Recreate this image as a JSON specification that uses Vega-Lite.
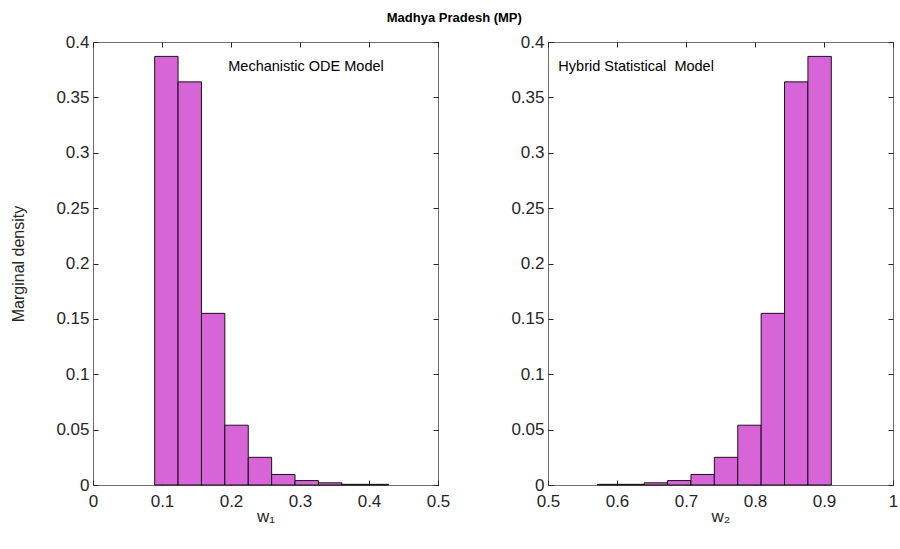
{
  "$schema": "https://vega.github.io/schema/vega-lite/v6.json",
  "background": "white",
  "padding": {"left": 10, "top": 11, "right": 2, "bottom": 2},
  "spacing": 59,
  "title": {"text": "Madhya Pradesh (MP)", "font": "Liberation Sans", "fontSize": 13, "fontWeight": "bold", "color": "#000000", "anchor": "middle", "offset": 8},
  "config": {
    "view": {"stroke": "#6e6e6e", "strokeWidth": 1},
    "axis": {
      "domain": false, "grid": false, "labelFlush": false,
      "tickSize": -5, "tickColor": "#262626", "tickWidth": 1,
      "labelFont": "Liberation Sans", "labelFontSize": 17, "labelColor": "#262626", "labelPadding": 9,
      "titleFont": "Liberation Sans", "titleFontSize": 16, "titleFontWeight": "normal", "titleColor": "#262626"
    },
    "axisBottom": {"labelPadding": 13}
  },
  "datasets": {
    "w1": [
      {"lo": 0.0894, "hi": 0.1233, "d": 0.387},
      {"lo": 0.1233, "hi": 0.1572, "d": 0.364},
      {"lo": 0.1572, "hi": 0.1911, "d": 0.155},
      {"lo": 0.1911, "hi": 0.2250, "d": 0.054},
      {"lo": 0.2250, "hi": 0.2589, "d": 0.025},
      {"lo": 0.2589, "hi": 0.2928, "d": 0.0095},
      {"lo": 0.2928, "hi": 0.3267, "d": 0.004},
      {"lo": 0.3267, "hi": 0.3606, "d": 0.002},
      {"lo": 0.3606, "hi": 0.3945, "d": 0.0006},
      {"lo": 0.3945, "hi": 0.4284, "d": 0.0006}
    ],
    "w2": [
      {"lo": 0.5716, "hi": 0.6055, "d": 0.0006},
      {"lo": 0.6055, "hi": 0.6394, "d": 0.0006},
      {"lo": 0.6394, "hi": 0.6733, "d": 0.002},
      {"lo": 0.6733, "hi": 0.7072, "d": 0.004},
      {"lo": 0.7072, "hi": 0.7411, "d": 0.0095},
      {"lo": 0.7411, "hi": 0.7750, "d": 0.025},
      {"lo": 0.7750, "hi": 0.8089, "d": 0.054},
      {"lo": 0.8089, "hi": 0.8428, "d": 0.155},
      {"lo": 0.8428, "hi": 0.8767, "d": 0.364},
      {"lo": 0.8767, "hi": 0.9106, "d": 0.387}
    ],
    "lab1": [{"x": 0.196, "y": 0.377, "t": "Mechanistic ODE Model"}],
    "lab2": [{"x": 0.515, "y": 0.377, "t": "Hybrid Statistical\u00a0 Model"}]
  },
  "hconcat": [
    {
      "width": 345, "height": 443,
      "layer": [
        {
          "data": {"name": "w1"},
          "mark": {"type": "bar", "fill": "#D865D8", "stroke": "#000000", "strokeWidth": 0.9},
          "encoding": {
            "x": {"field": "lo", "type": "quantitative", "scale": {"domain": [0, 0.5], "nice": false, "zero": false},
                  "axis": {"values": [0, 0.1, 0.2, 0.3, 0.4, 0.5], "format": "~g", "title": "w₁", "titlePadding": -1, "titleFontSize": 17}},
            "x2": {"field": "hi"},
            "y": {"field": "d", "type": "quantitative", "scale": {"domain": [0, 0.4], "nice": false},
                  "axis": {"values": [0, 0.05, 0.1, 0.15, 0.2, 0.25, 0.3, 0.35, 0.4], "format": ".2~f", "title": "Marginal density", "titlePadding": 29}},
            "y2": {"datum": 0}
          }
        },
        {
          "data": {"name": "w1"},
          "mark": {"type": "bar", "opacity": 0},
          "encoding": {
            "x": {"field": "lo", "type": "quantitative", "scale": {"domain": [0, 0.5], "nice": false, "zero": false},
                  "axis": {"orient": "top", "values": [0, 0.1, 0.2, 0.3, 0.4, 0.5], "labels": false, "title": null}},
            "x2": {"field": "hi"},
            "y": {"field": "d", "type": "quantitative", "scale": {"domain": [0, 0.4], "nice": false},
                  "axis": {"orient": "right", "values": [0, 0.05, 0.1, 0.15, 0.2, 0.25, 0.3, 0.35, 0.4], "labels": false, "title": null}},
            "y2": {"datum": 0}
          }
        },
        {
          "data": {"name": "lab1"},
          "mark": {"type": "text", "align": "left", "baseline": "middle", "font": "Liberation Sans", "fontSize": 14.5, "color": "#000000"},
          "encoding": {
            "x": {"field": "x", "type": "quantitative", "scale": {"domain": [0, 0.5], "nice": false, "zero": false}, "axis": null},
            "y": {"field": "y", "type": "quantitative", "scale": {"domain": [0, 0.4], "nice": false}, "axis": null},
            "text": {"field": "t"}
          }
        }
      ],
      "resolve": {"scale": {"x": "independent", "y": "independent"}}
    },
    {
      "width": 345, "height": 443,
      "layer": [
        {
          "data": {"name": "w2"},
          "mark": {"type": "bar", "fill": "#D865D8", "stroke": "#000000", "strokeWidth": 0.9},
          "encoding": {
            "x": {"field": "lo", "type": "quantitative", "scale": {"domain": [0.5, 1], "nice": false, "zero": false},
                  "axis": {"values": [0.5, 0.6, 0.7, 0.8, 0.9, 1], "format": "~g", "title": "w₂", "titlePadding": -1, "titleFontSize": 17}},
            "x2": {"field": "hi"},
            "y": {"field": "d", "type": "quantitative", "scale": {"domain": [0, 0.4], "nice": false},
                  "axis": {"values": [0, 0.05, 0.1, 0.15, 0.2, 0.25, 0.3, 0.35, 0.4], "format": ".2~f", "title": null}},
            "y2": {"datum": 0}
          }
        },
        {
          "data": {"name": "w2"},
          "mark": {"type": "bar", "opacity": 0},
          "encoding": {
            "x": {"field": "lo", "type": "quantitative", "scale": {"domain": [0.5, 1], "nice": false, "zero": false},
                  "axis": {"orient": "top", "values": [0.5, 0.6, 0.7, 0.8, 0.9, 1], "labels": false, "title": null}},
            "x2": {"field": "hi"},
            "y": {"field": "d", "type": "quantitative", "scale": {"domain": [0, 0.4], "nice": false},
                  "axis": {"orient": "right", "values": [0, 0.05, 0.1, 0.15, 0.2, 0.25, 0.3, 0.35, 0.4], "labels": false, "title": null}},
            "y2": {"datum": 0}
          }
        },
        {
          "data": {"name": "lab2"},
          "mark": {"type": "text", "align": "left", "baseline": "middle", "font": "Liberation Sans", "fontSize": 14.5, "color": "#000000"},
          "encoding": {
            "x": {"field": "x", "type": "quantitative", "scale": {"domain": [0.5, 1], "nice": false, "zero": false}, "axis": null},
            "y": {"field": "y", "type": "quantitative", "scale": {"domain": [0, 0.4], "nice": false}, "axis": null},
            "text": {"field": "t"}
          }
        }
      ],
      "resolve": {"scale": {"x": "independent", "y": "independent"}}
    }
  ]
}
